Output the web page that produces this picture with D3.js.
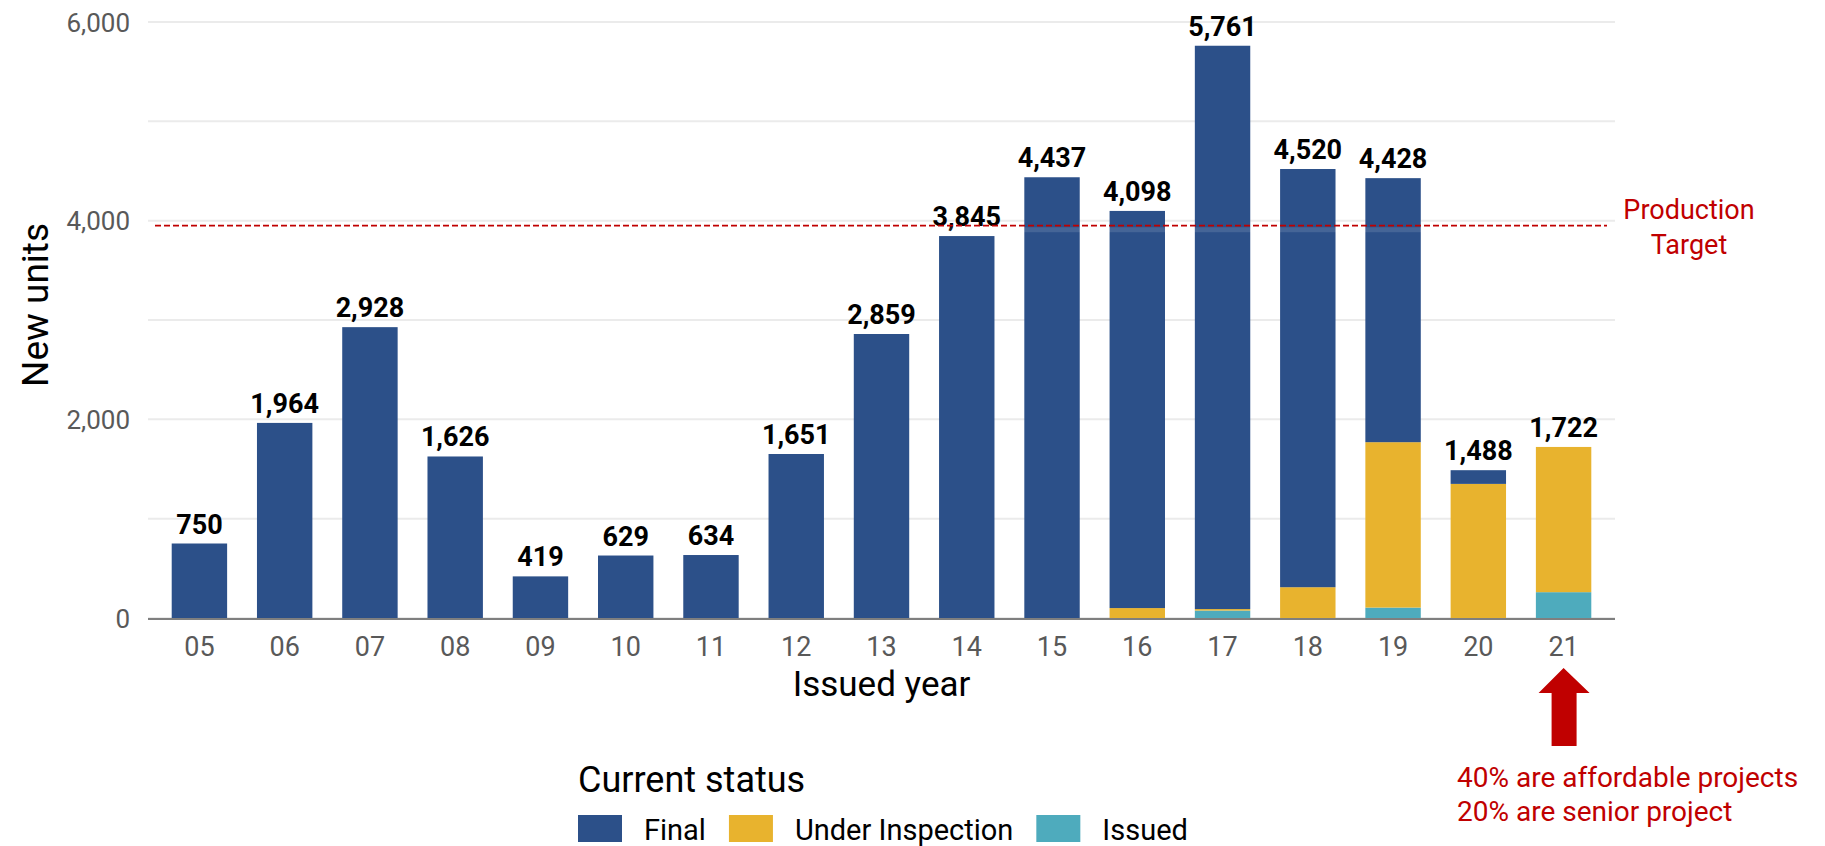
<!DOCTYPE html>
<html>
<head>
<meta charset="utf-8">
<script src="https://cdn.jsdelivr.net/npm/d3@7"></script>
<style>
  html, body { margin: 0; padding: 0; background: #fff; }
  svg { display: block; font-family: Roboto, "Noto Sans", sans-serif; }
</style>
</head>
<body>
<svg id="chart" width="1825" height="846"></svg>
<script>
// Issued year (two-digit) categories
const years = ["05","06","07","08","09","10","11","12","13","14","15","16","17","18","19","20","21"];
// New units by current status
const finalUnits      = [750, 1964, 2928, 1626, 419, 629, 634, 1651, 2859, 3845, 4437, 3998, 5671, 4210, 2658, 138, 0];
const inspectionUnits = [0, 0, 0, 0, 0, 0, 0, 0, 0, 0, 0, 100, 15, 310, 1665, 1350, 1462];
const issuedUnits     = [0, 0, 0, 0, 0, 0, 0, 0, 0, 0, 0, 0, 75, 0, 105, 0, 260];
const statusNames = ["Final", "Under Inspection", "Issued"];
const yTicks = [0, 2000, 4000, 6000];
const productionTarget = 3950;
const targetLines = ["Production", "Target"];
const noteLines = ["40% are affordable projects", "20% are senior project"];

const colors = { "Final": "#2c5089", "Under Inspection": "#e8b32e", "Issued": "#4eabbd" };
const red = "#c00000";

const rows = years.map((yr, i) => ({
  year: yr,
  "Issued": issuedUnits[i],
  "Under Inspection": inspectionUnits[i],
  "Final": finalUnits[i]
}));
rows.forEach(r => r.total = r["Issued"] + r["Under Inspection"] + r["Final"]);

const svg = d3.select("#chart");
const plotLeft = 148, plotRight = 1615, plotTop = 22, plotBottom = 618;

const x = d3.scaleBand().domain(years).range([plotLeft, plotRight])
  .paddingInner(0.35).paddingOuter(0.278);
const y = d3.scaleLinear().domain([0, 6000]).range([plotBottom, plotTop]);

// gridlines (major and minor)
const grid = svg.append("g");
d3.range(0, 6001, 1000).forEach(v => {
  grid.append("line")
    .attr("x1", plotLeft).attr("x2", plotRight)
    .attr("y1", y(v)).attr("y2", y(v))
    .attr("stroke", "#ebebeb").attr("stroke-width", 2);
});

// stacked bars: Issued at the bottom, then Under Inspection, then Final
const stack = d3.stack().keys(["Issued", "Under Inspection", "Final"])(rows);
svg.append("g").selectAll("g").data(stack).join("g")
  .attr("fill", d => colors[d.key])
  .selectAll("rect").data(d => d).join("rect")
  .attr("x", d => x(d.data.year))
  .attr("width", x.bandwidth())
  .attr("y", d => y(d[1]))
  .attr("height", d => Math.max(0, y(d[0]) - y(d[1])));

// x axis line
svg.append("line")
  .attr("x1", plotLeft).attr("x2", plotRight)
  .attr("y1", plotBottom + 1).attr("y2", plotBottom + 1)
  .attr("stroke", "#7f7f7f").attr("stroke-width", 2.2);

// y axis
const yAxis = svg.append("g").attr("transform", `translate(${plotLeft - 18},0)`)
  .call(d3.axisLeft(y).tickValues(yTicks).tickSize(0).tickFormat(d3.format(",")));
yAxis.select(".domain").remove();
yAxis.selectAll("text")
  .attr("x", 0).attr("dy", "0.35em")
  .attr("fill", "#595959").style("font-size", "26px").style("font-family", "Roboto");

// x axis labels
const xAxis = svg.append("g").attr("transform", `translate(0,${plotBottom})`)
  .call(d3.axisBottom(x).tickSize(0));
xAxis.select(".domain").remove();
xAxis.selectAll("text")
  .attr("y", 38).attr("dy", 0)
  .attr("fill", "#595959").style("font-size", "27px").style("font-family", "Roboto");

// value labels
svg.append("g").selectAll("text").data(rows).join("text")
  .attr("x", d => x(d.year) + x.bandwidth() / 2)
  .attr("y", d => y(d.total) - 10)
  .attr("text-anchor", "middle")
  .attr("font-weight", "bold")
  .style("font-size", "27px")
  .attr("fill", "#000")
  .text(d => d3.format(",")(d.total));

// production target
const ty = y(productionTarget);
svg.append("line")
  .attr("x1", plotLeft + 7).attr("x2", plotRight - 8)
  .attr("y1", ty + 4).attr("y2", ty + 4)
  .attr("stroke", "#fff").attr("stroke-opacity", 0.12).attr("stroke-width", 5);
svg.append("line")
  .attr("x1", plotLeft + 7).attr("x2", plotRight - 8)
  .attr("y1", ty).attr("y2", ty)
  .attr("stroke", red).attr("stroke-width", 1.8)
  .attr("stroke-dasharray", "6,3");
svg.append("text")
  .attr("x", 1689).attr("y", 219)
  .attr("text-anchor", "middle")
  .attr("fill", red).style("font-size", "27px")
  .selectAll("tspan").data(targetLines).join("tspan")
  .attr("x", 1689).attr("dy", (d, i) => i === 0 ? 0 : 35)
  .text(d => d);

// axis titles
svg.append("text")
  .attr("x", (plotLeft + plotRight) / 2).attr("y", 696)
  .attr("text-anchor", "middle").style("font-size", "35px").attr("fill", "#000")
  .text("Issued year");
svg.append("text")
  .attr("transform", "translate(48,305) rotate(-90)")
  .attr("text-anchor", "middle").style("font-size", "37px").attr("fill", "#000")
  .text("New units");

// arrow pointing at the latest year
const ax = x("21") + x.bandwidth() / 2;
svg.append("path")
  .attr("d", `M${ax},668 L${ax + 26},693 L${ax + 13},693 L${ax + 13},746 L${ax - 12},746 L${ax - 12},693 L${ax - 25},693 Z`)
  .attr("fill", red);
svg.append("text")
  .attr("x", 1457).attr("y", 787)
  .attr("fill", red).style("font-size", "28px")
  .selectAll("tspan").data(noteLines).join("tspan")
  .attr("x", 1457).attr("dy", (d, i) => i === 0 ? 0 : 34)
  .text(d => d);

// legend
const legend = svg.append("g");
legend.append("text")
  .attr("x", 578).attr("y", 792)
  .style("font-size", "36px").attr("fill", "#000")
  .text("Current status");
let lx = 578;
statusNames.forEach(name => {
  legend.append("rect")
    .attr("x", lx).attr("y", 815).attr("width", 44).attr("height", 27)
    .attr("fill", colors[name]);
  const t = legend.append("text")
    .attr("x", lx + 66).attr("y", 840)
    .style("font-size", "29px").attr("fill", "#000")
    .text(name);
  lx = lx + 66 + t.node().getComputedTextLength() + 23;
});
</script>
</body>
</html>
